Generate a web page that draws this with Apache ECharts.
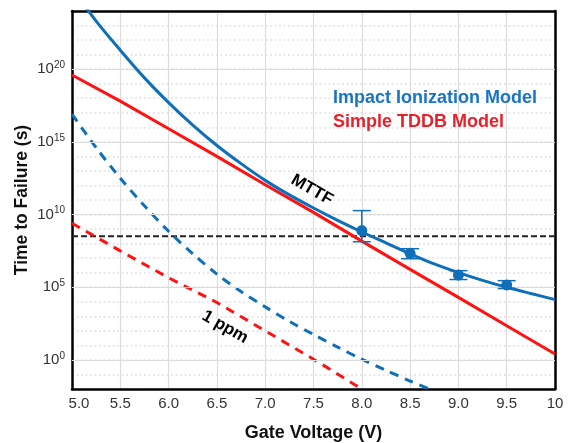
<!DOCTYPE html>
<html>
<head>
<meta charset="utf-8">
<script src="https://cdn.jsdelivr.net/npm/echarts@6/dist/echarts.min.js"></script>
<style>
html,body{margin:0;padding:0;background:#fff;}
#c{width:571px;height:443px;}
</style>
</head>
<body>
<div id="c"></div>
<script>
// Gate voltage (V) and log10(time to failure in s)
const iiSolidV    = [5.0, 5.25, 5.5, 5.75, 6.0, 6.25, 6.5, 6.75, 7.0, 7.25, 7.5, 7.75, 8.0, 8.25, 8.5, 8.75, 9.0, 9.25, 9.5, 9.75, 10.0];
const iiSolidLogT = [25.6, 23.3, 21.3, 19.4, 17.7, 16.15, 14.75, 13.5, 12.35, 11.35, 10.45, 9.6, 8.8, 8.05, 7.3, 6.6, 6.0, 5.47, 5.0, 4.57, 4.15];

const tddbSolidV    = [5.0, 5.5, 6.0, 6.5, 7.0, 7.5, 8.0, 8.5, 9.0, 9.5, 10.0];
const tddbSolidLogT = [19.6, 17.8, 15.9, 14.0, 12.05, 10.15, 8.17, 6.23, 4.3, 2.35, 0.41];

const iiPpmV    = [5.0, 5.25, 5.5, 5.75, 6.0, 6.25, 6.5, 6.75, 7.0, 7.25, 7.5, 7.75, 8.0, 8.25, 8.5, 8.75];
const iiPpmLogT = [16.9, 14.6, 12.5, 10.6, 8.85, 7.3, 5.9, 4.7, 3.65, 2.65, 1.75, 0.88, 0.05, -0.72, -1.45, -2.15];

const tddbPpmV    = [5.0, 5.5, 6.0, 6.5, 7.0, 7.5, 8.0];
const tddbPpmLogT = [9.4, 7.5, 5.65, 3.95, 2.0, 0.05, -2.0];

const targetV    = [5.0, 10.0];
const targetLogT = [8.5, 8.5];

// measured points: V, log10 mean, log10 low, log10 high
const measV    = [8.0, 8.5, 9.0, 9.5];
const measLogT = [8.9, 7.33, 5.84, 5.16];
const measLow  = [8.13, 6.96, 5.53, 4.91];
const measHigh = [10.27, 7.65, 6.14, 5.45];

const yMajorExp = [0, 5, 10, 15, 20];

const BLUE = '#0f6fb8';
const RED = '#ff1212';
const FONT = 'Liberation Sans';

const zip = (a, b) => a.map((v, i) => [v, b[i]]);

const frameAxis = {axisLine: {show: true, onZero: false, lineStyle: {color: '#000', width: 2.5}},
  axisTick: {show: false}, axisLabel: {show: false}, splitLine: {show: false}};

const chart = echarts.init(document.getElementById('c'), null, {renderer: 'canvas'});
const option = {
  animation: false,
  backgroundColor: '#fff',
  grid: {left: 72, top: 11, right: 16, bottom: 54, show: false, containLabel: false, outerBoundsMode: 'none'},
  xAxis: [{
    type: 'value', min: 5, max: 10, interval: 0.5, position: 'bottom',
    name: 'Gate Voltage (V)', nameLocation: 'middle', nameGap: 35,
    nameTextStyle: {fontFamily: FONT, fontWeight: 'bold', fontSize: 18, color: '#111'},
    axisLine: {show: true, onZero: false, lineStyle: {color: '#000', width: 2.5}}, axisTick: {show: false},
    axisLabel: {fontFamily: FONT, fontSize: 15, color: '#333', margin: 7,
      formatter: v => (Math.abs(v - 10) < 1e-9 ? '10' : (Math.abs(v - 5) < 1e-9 ? '{p|}5.0' : v.toFixed(1))),
      rich: {p: {width: 14}}},
    splitLine: {show: true, lineStyle: {color: '#dcdcdc', width: 1.2}}
  }, Object.assign({type: 'value', min: 5, max: 10, position: 'top'}, frameAxis)],
  yAxis: [{
    type: 'value', min: -2, max: 24, interval: 1, position: 'left',
    name: 'Time to Failure (s)', nameLocation: 'middle', nameGap: 41, nameRotate: 90, nameMoveOverlap: false,
    nameTextStyle: {fontFamily: FONT, fontWeight: 'bold', fontSize: 17.5, color: '#111'},
    axisLine: {show: true, onZero: false, lineStyle: {color: '#000', width: 2.5}}, axisTick: {show: false},
    axisLabel: {
      margin: 7, fontFamily: FONT, color: '#333',
      formatter: v => (yMajorExp.indexOf(v) >= 0 ? '{b|10}{s|' + v + '}' : ''),
      rich: {
        b: {fontFamily: FONT, fontSize: 15, color: '#333', lineHeight: 18},
        s: {fontFamily: FONT, fontSize: 10, color: '#333', verticalAlign: 'top', lineHeight: 18, padding: [0, 0, 6, 0]}
      }
    },
    splitLine: {show: true, lineStyle: {color: '#e2e2e2', width: 1.5, type: [2, 2.5]}}
  }, Object.assign({type: 'value', min: -2, max: 24, position: 'right'}, frameAxis)],
  series: [
    {
      type: 'line', data: [], silent: true, z: 1,
      markLine: {silent: true, symbol: 'none', label: {show: false},
        lineStyle: {color: '#dcdcdc', width: 1.2, type: 'solid'},
        data: yMajorExp.map(e => ({yAxis: e}))}
    },
    {type: 'line', data: zip(targetV, targetLogT), symbol: 'none', z: 3,
      lineStyle: {color: '#222', width: 2, type: [6, 3]}},
    {type: 'line', data: zip(tddbPpmV, tddbPpmLogT), symbol: 'none', z: 4,
      lineStyle: {color: RED, width: 3, type: [9, 7]}},
    {type: 'line', data: zip(iiPpmV, iiPpmLogT), symbol: 'none', smooth: 0.3, z: 4,
      lineStyle: {color: BLUE, width: 3, type: [9, 7]}},
    {type: 'line', data: zip(tddbSolidV, tddbSolidLogT), symbol: 'none', z: 5,
      lineStyle: {color: RED, width: 3}},
    {type: 'line', data: zip(iiSolidV, iiSolidLogT), symbol: 'none', smooth: 0.3, z: 6,
      lineStyle: {color: BLUE, width: 3}},
    {type: 'custom', z: 7,
      data: measV.map((v, i) => [v, measLow[i], measHigh[i]]),
      renderItem: (params, api) => {
        const lo = api.coord([api.value(0), api.value(1)]);
        const hi = api.coord([api.value(0), api.value(2)]);
        const w = 9;
        const st = {stroke: BLUE, lineWidth: 1.5};
        return {type: 'group', children: [
          {type: 'line', shape: {x1: lo[0], y1: lo[1], x2: hi[0], y2: hi[1]}, style: st},
          {type: 'line', shape: {x1: lo[0] - w, y1: lo[1], x2: lo[0] + w, y2: lo[1]}, style: st},
          {type: 'line', shape: {x1: hi[0] - w, y1: hi[1], x2: hi[0] + w, y2: hi[1]}, style: st}
        ]};
      }},
    {type: 'scatter', data: zip(measV, measLogT), symbol: 'circle', symbolSize: 11, z: 8,
      itemStyle: {color: BLUE, opacity: 1}}
  ],
  graphic: [
    {type: 'text', left: 333, top: 89, z: 100, style: {text: 'Impact Ionization Model', fill: '#1874c4',
      font: 'bold 18px "Liberation Sans"'}},
    {type: 'text', left: 333, top: 113, z: 100, style: {text: 'Simple TDDB Model', fill: '#e8202a',
      font: 'bold 18px "Liberation Sans"'}},
    {type: 'text', x: 312, y: 190, rotation: -0.52, z: 100,
      style: {text: 'MTTF', fill: '#000', font: 'bold 17px "Liberation Sans"', align: 'center', verticalAlign: 'middle'}},
    {type: 'text', x: 225, y: 327, rotation: -0.52, z: 100,
      style: {text: '1 ppm', fill: '#000', font: 'bold 17px "Liberation Sans"', align: 'center', verticalAlign: 'middle'}}
  ]
};
chart.setOption(option);
</script>
</body>
</html>
